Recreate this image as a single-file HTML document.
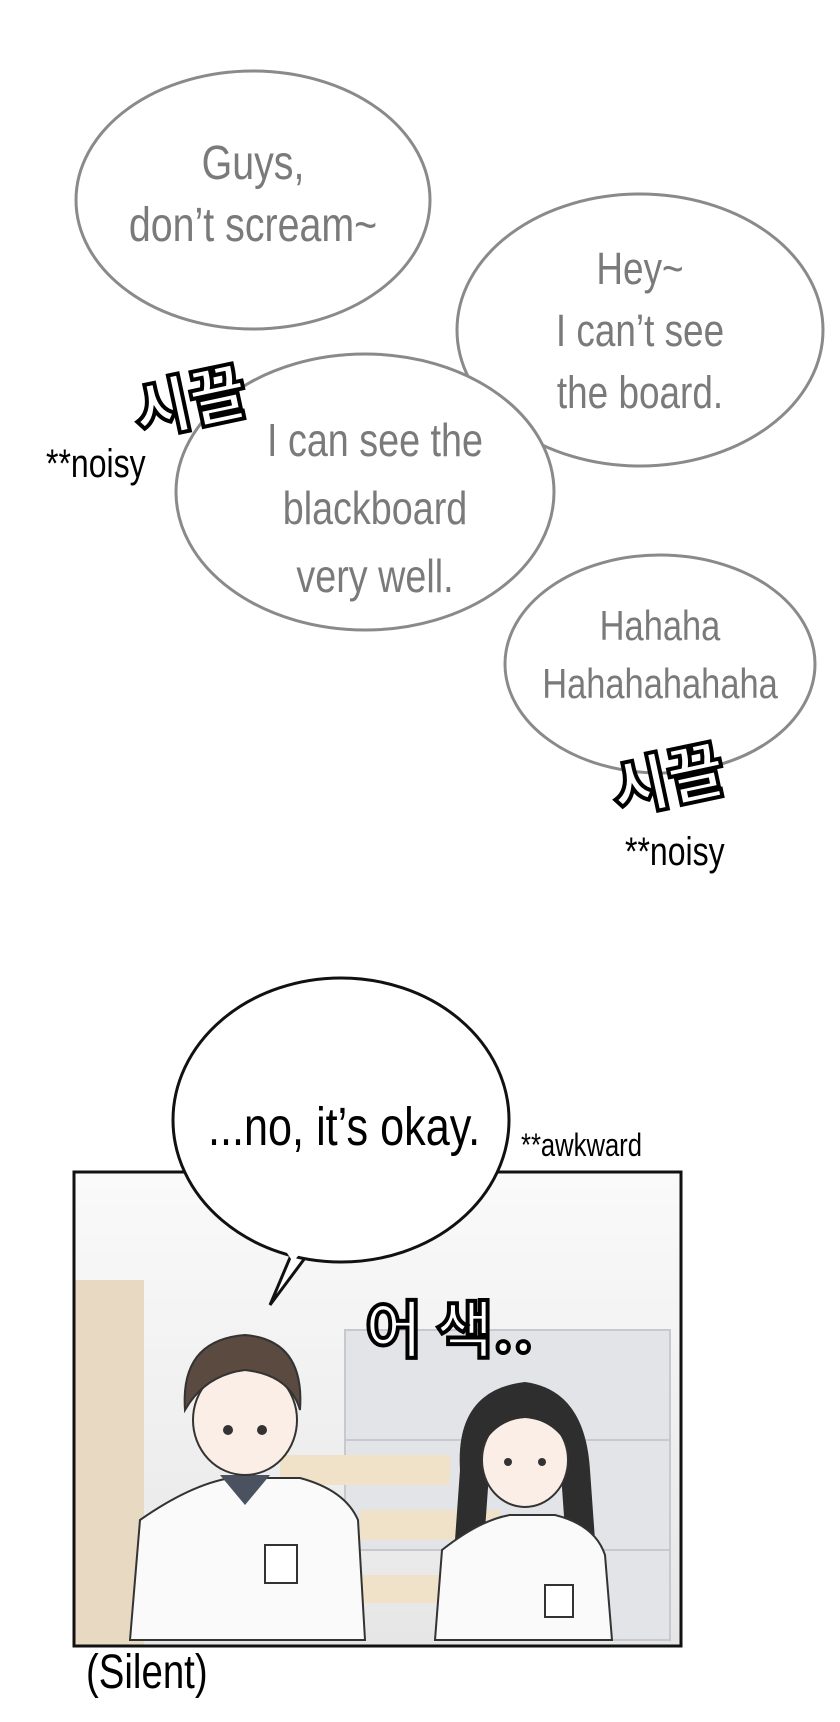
<!DOCTYPE html>
<html><head><meta charset="utf-8"><style>
body{margin:0;width:840px;height:1722px;background:#fff;overflow:hidden;position:relative;font-family:"Liberation Sans Narrow","Liberation Sans",sans-serif}
.t{position:absolute;text-align:center;color:#7a7a7a;font-size:45px;line-height:62px;transform:scaleX(.82);transform-origin:center top;white-space:nowrap}
.b{position:absolute;color:#000;white-space:nowrap}
</style></head><body>
<svg width="840" height="1722" style="position:absolute;left:0;top:0">
<g fill="#fff" stroke="#8a8a8a" stroke-width="3">
<ellipse cx="253" cy="200" rx="177" ry="129"/>
<ellipse cx="640" cy="330" rx="183" ry="136"/>
<ellipse cx="365" cy="492" rx="189" ry="138"/>
<ellipse cx="660" cy="664" rx="155" ry="109"/>
</g>
<defs><linearGradient id="bg" x1="0" y1="0" x2="0" y2="1"><stop offset="0" stop-color="#fafafa"/><stop offset="1" stop-color="#e6e6e6"/></linearGradient></defs>
<rect x="74" y="1172" width="607" height="474" fill="url(#bg)"/>
<rect x="74" y="1280" width="70" height="366" fill="#e8d9c2"/>
<g fill="#e2e4e8" stroke="#c7c9ce" stroke-width="2">
<rect x="345" y="1330" width="325" height="110"/>
<rect x="345" y="1440" width="325" height="110"/>
<rect x="590" y="1550" width="80" height="90"/>
</g>
<rect x="280" y="1455" width="170" height="30" fill="#efe2c9"/>
<rect x="360" y="1510" width="140" height="30" fill="#efe2c9"/>
<rect x="355" y="1575" width="120" height="28" fill="#efe2c9"/>
<path d="M130 1640 L140 1520 Q190 1485 230 1478 L300 1478 Q345 1490 358 1520 L365 1640Z" fill="#fafafa" stroke="#333" stroke-width="2"/>
<path d="M220 1475 L245 1505 L270 1475Z" fill="#4a5260"/>
<ellipse cx="245" cy="1420" rx="52" ry="55" fill="#fbeee6" stroke="#333" stroke-width="2"/>
<path d="M185 1410 Q180 1340 245 1335 Q305 1340 300 1410 Q290 1375 245 1370 Q205 1375 185 1410Z" fill="#5a4a40" stroke="#333" stroke-width="2"/>
<circle cx="228" cy="1430" r="5" fill="#333"/><circle cx="262" cy="1430" r="5" fill="#333"/>
<rect x="265" y="1545" width="32" height="38" fill="#fff" stroke="#333" stroke-width="2"/>
<path d="M460 1470 Q455 1390 525 1382 Q585 1390 590 1470 L595 1540 L565 1530 L560 1460 L490 1460 L485 1530 L455 1540Z" fill="#2e2e2e"/>
<path d="M435 1640 L442 1550 Q480 1520 510 1515 L555 1515 Q595 1525 605 1555 L612 1640Z" fill="#fafafa" stroke="#333" stroke-width="2"/>
<ellipse cx="525" cy="1460" rx="43" ry="47" fill="#fbeee6" stroke="#333" stroke-width="2"/>
<path d="M480 1450 Q485 1395 525 1395 Q570 1395 570 1450 Q555 1420 525 1418 Q495 1420 480 1450Z" fill="#2e2e2e"/>
<circle cx="508" cy="1462" r="4" fill="#333"/><circle cx="542" cy="1462" r="4" fill="#333"/>
<rect x="545" y="1585" width="28" height="32" fill="#fff" stroke="#333" stroke-width="2"/>
<rect x="74" y="1172" width="607" height="474" fill="none" stroke="#111" stroke-width="3"/>
<path d="M292 1253 L270 1305 L305 1258Z" fill="#fff" stroke="#111" stroke-width="3"/>
<ellipse cx="341" cy="1120" rx="168" ry="142" fill="#fff" stroke="#111" stroke-width="3"/>
<path d="M285 1250 L293 1262 L303 1250Z" fill="#fff"/>
</svg>
<div class="t" style="left:53px;top:133px;width:400px;font-size:48px">Guys,<br>don’t scream~</div>
<div class="t" style="left:440px;top:238px;width:400px">Hey~<br>I can’t see<br>the board.</div>
<div class="t" style="left:175px;top:406px;width:400px;line-height:68px;font-size:46px">I can see the<br>blackboard<br>very well.</div>
<div class="t" style="left:460px;top:597px;width:400px;font-size:42px;line-height:58px">Hahaha<br>Hahahahahaha</div>
<div class="b" style="left:132px;top:352px;font-family:'Noto Sans CJK KR',sans-serif;font-weight:900;font-size:62px;color:#fff;-webkit-text-stroke:4px #000;transform:rotate(-12deg)">시끌</div>
<div class="b" style="left:610px;top:730px;font-family:'Noto Sans CJK KR',sans-serif;font-weight:900;font-size:62px;color:#fff;-webkit-text-stroke:4px #000;transform:rotate(-12deg)">시끌</div>
<div class="b" style="left:46px;top:442px;font-size:40px;transform:scaleX(.8);transform-origin:left">**noisy</div>
<div class="b" style="left:625px;top:830px;font-size:40px;transform:scaleX(.8);transform-origin:left">**noisy</div>
<div class="b" style="left:208px;top:1096px;font-size:54px;transform:scaleX(.8);transform-origin:left">...no, it’s okay.</div>
<div class="b" style="left:521px;top:1127px;font-size:32px;transform:scaleX(.8);transform-origin:left">**awkward</div>
<div class="b" style="left:365px;top:1280px;font-family:'Noto Sans CJK KR',sans-serif;font-weight:700;font-size:62px;color:#fff;-webkit-text-stroke:4px #000">어 색..</div>
<div class="b" style="left:86px;top:1645px;font-size:48px;transform:scaleX(.8);transform-origin:left">(Silent)</div>
</body></html>
